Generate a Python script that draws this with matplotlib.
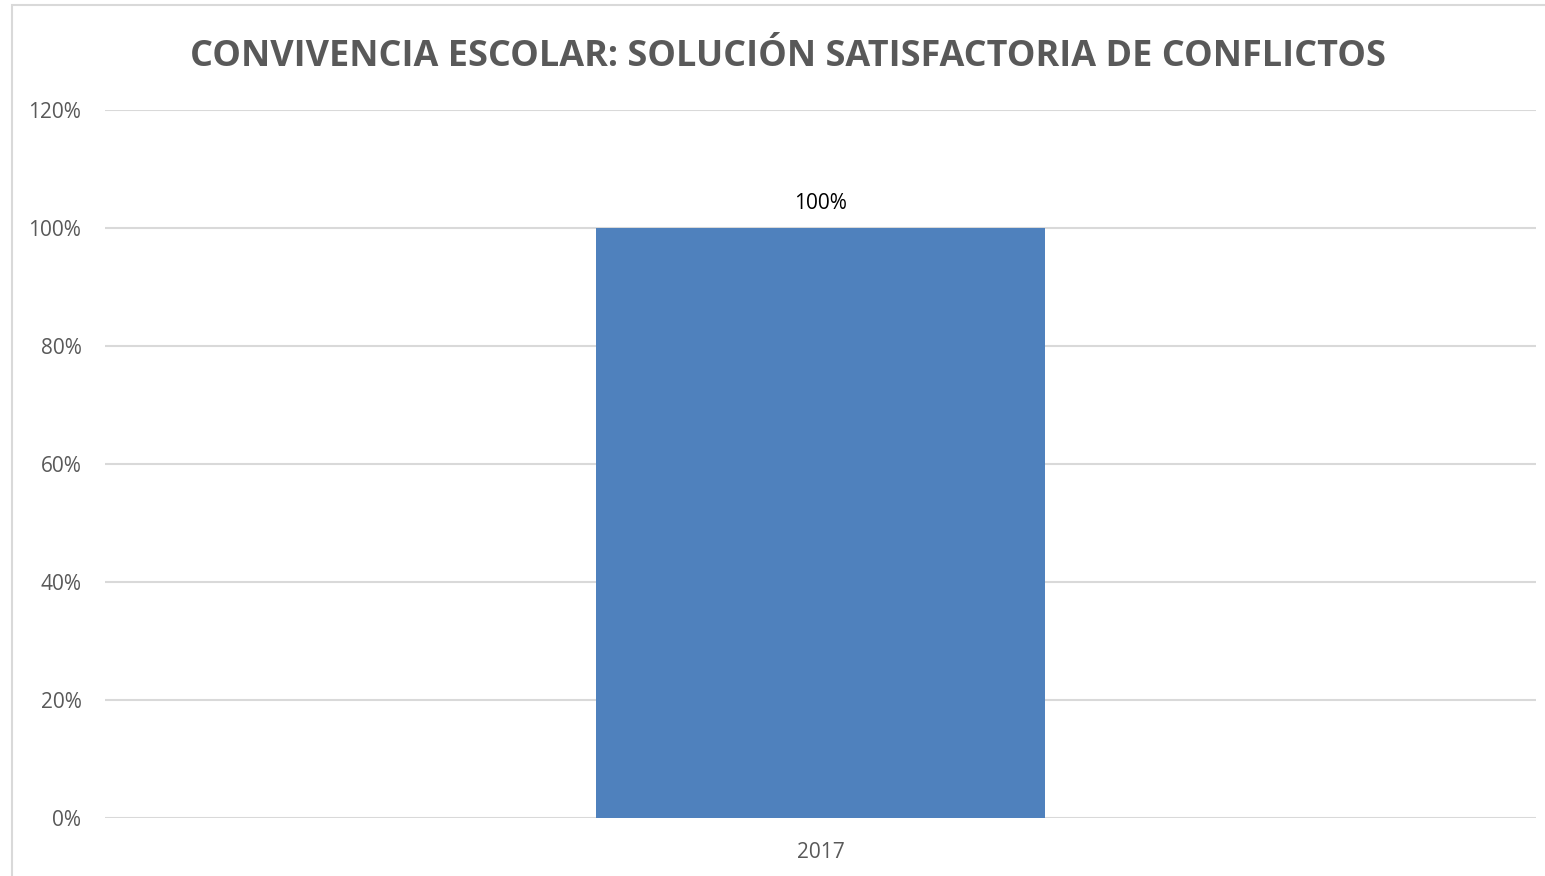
import matplotlib
matplotlib.use('Agg')
import matplotlib.pyplot as plt
from matplotlib.patches import Rectangle
from matplotlib.ticker import FuncFormatter

years = ['2017']
values = [1.00]
y_ticks = [0, 0.2, 0.4, 0.6, 0.8, 1.0, 1.2]

plt.rcParams['font.family'] = ['Open Sans', 'DejaVu Sans']

fig = plt.figure(figsize=(15.45, 8.76), dpi=100)
ax = fig.add_axes([105 / 1545, 1 - 818 / 876, 1431 / 1545, 708 / 876])

# chart border (cut off at right and bottom like the source)
fig.patches.append(Rectangle((12 / 1545, -0.01), 1.2, 1 - 5 / 876 + 0.01,
                             transform=fig.transFigure, fill=False,
                             edgecolor='#D9D9D9', linewidth=1.5))

x = list(range(len(years)))
bars = ax.bar(x, values, width=0.314, color='#4F81BD', zorder=3)
for b, v in zip(bars, values):
    ax.text(b.get_x() + b.get_width() / 2, v + 0.024, f'{v:.0%}',
            ha='center', va='bottom', fontsize=15, color='black')

ax.set_xlim(-0.5, 0.5)
ax.set_ylim(0, 1.2)
ax.set_yticks(y_ticks)
ax.yaxis.set_major_formatter(FuncFormatter(lambda v, p: f'{v:.0%}'))
ax.set_xticks(x)
ax.set_xticklabels(years)
ax.tick_params(axis='both', length=0, labelsize=15, labelcolor='#595959')
ax.tick_params(axis='y', pad=17)
ax.tick_params(axis='x', pad=17)
ax.grid(axis='y', color='#D9D9D9', linewidth=1.5, zorder=0)
for s in ax.spines.values():
    s.set_visible(False)

fig.text(788 / 1545, 1 - 57 / 876,
         'CONVIVENCIA ESCOLAR: SOLUCIÓN SATISFACTORIA DE CONFLICTOS',
         ha='center', va='center', fontsize=25.9, fontweight='bold', color='#595959')

fig.savefig('out.png', dpi=100)
